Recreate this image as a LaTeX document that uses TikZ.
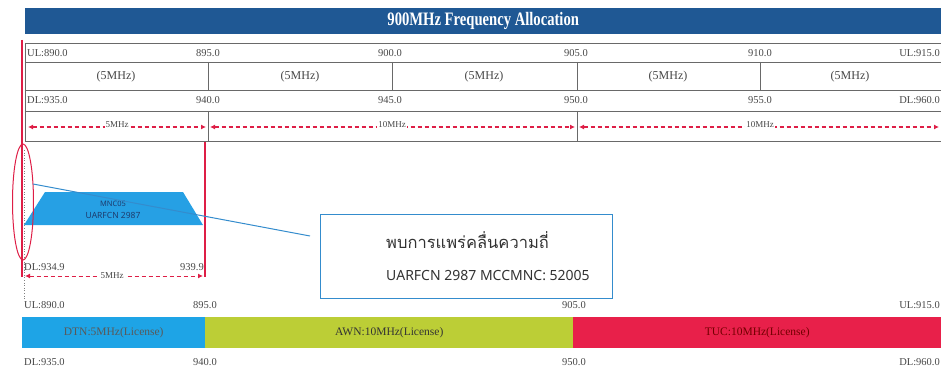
\documentclass[tikz,border=0pt]{standalone}
\usepackage{fontspec}
\usepackage{graphicx}
\setmainfont{Liberation Serif}
\newfontfamily\thaifont[Script=Thai]{Loma}
\newfontfamily\nsans{Noto Sans}
\usetikzlibrary{arrows.meta,shapes.geometric}
\definecolor{titlebg}{RGB}{31,88,148}
\definecolor{redline}{RGB}{222,30,70}
\definecolor{bandblue}{RGB}{30,164,230}
\definecolor{bandgreen}{RGB}{188,206,54}
\definecolor{bandred}{RGB}{232,32,74}
\definecolor{lbl}{RGB}{70,70,70}
\definecolor{boxblue}{RGB}{52,140,205}
\definecolor{trapblue}{RGB}{38,160,228}
\definecolor{trapText}{RGB}{30,60,110}
\definecolor{tline}{RGB}{105,105,105}
\begin{document}
\begin{tikzpicture}[x=1pt,y=-1pt,
  lab/.style={font=\fontsize{10.5}{11}\selectfont, text=lbl, inner sep=0pt},
  mhz/.style={font=\fontsize{12}{12}\selectfont, text=lbl, inner sep=0pt},
  tabline/.style={draw=tline, line width=0.9pt},
  redv/.style={draw=redline, line width=1.3pt},
  span/.style={draw=redline, line width=1.2pt, dash pattern=on 4pt off 3pt, {Latex[length=5pt,width=5pt]}-{Latex[length=5pt,width=5pt]}},
  spanlab/.style={fill=white, inner sep=1pt, font=\fontsize{9}{9}\selectfont, text=lbl},
  band/.style={anchor=north west, minimum height=31pt, inner sep=0pt, font=\fontsize{11.5}{12}\selectfont},
]
\useasboundingbox (0,0) rectangle (941,374);

% title bar
\node[fill=titlebg, anchor=north west, minimum width=916pt, minimum height=26pt, inner sep=0pt,
  text=white, font=\bfseries\fontsize{19}{19}\selectfont] (title) at (25,8)
  {\scalebox{0.77}[1]{900MHz Frequency Allocation}};

% table
\draw[tabline] (25,43) -- (941,43);
\draw[tabline] (25,62) -- (941,62);
\draw[tabline] (25,90) -- (941,90);
\draw[tabline] (25,111) -- (941,111);
\draw[tabline] (25,141) -- (941,141);
\draw[tabline] (25,43) -- (25,141);
\foreach \x in {208,392,577,760} \draw[tabline] (\x,62) -- (\x,90);
\foreach \x in {208,577} \draw[tabline] (\x,111) -- (\x,141);

\node[lab, anchor=west] (ul890) at (27,53) {UL:890.0};
\node[lab] (ul895) at (208,53) {895.0};
\node[lab] (ul900) at (390,53) {900.0};
\node[lab] (ul905) at (576,53) {905.0};
\node[lab] (ul910) at (760,53) {910.0};
\node[lab, anchor=east] (ul915) at (940,53) {UL:915.0};

\node[mhz] (m1) at (116,77) {(5MHz)};
\node[mhz] (m2) at (300,77) {(5MHz)};
\node[mhz] (m3) at (484,77) {(5MHz)};
\node[mhz] (m4) at (668,77) {(5MHz)};
\node[mhz] (m5) at (850,77) {(5MHz)};

\node[lab, anchor=west] (dl935) at (27,100) {DL:935.0};
\node[lab] (dl940) at (208,100) {940.0};
\node[lab] (dl945) at (390,100) {945.0};
\node[lab] (dl950) at (576,100) {950.0};
\node[lab] (dl955) at (760,100) {955.0};
\node[lab, anchor=east] (dl960) at (940,100) {DL:960.0};

\coordinate (a1) at (28,127);
\coordinate (a2) at (206,127);
\coordinate (a3) at (210,127);
\coordinate (a4) at (575,127);
\coordinate (a5) at (579,127);
\coordinate (a6) at (939,127);
\draw[span] (a1) -- (a2);
\draw[span] (a3) -- (a4);
\draw[span] (a5) -- (a6);
\node[spanlab] (s1) at (117,125) {5MHz};
\node[spanlab] (s2) at (392,125) {10MHz};
\node[spanlab] (s3) at (760,125) {10MHz};

% red guide lines
\coordinate (r1t) at (22,40);
\coordinate (r1b) at (22,277);
\coordinate (r2t) at (205,142);
\coordinate (r2b) at (205,277);
\draw[redv] (r1t) -- (r1b);
\draw[redv] (r2t) -- (r2b);
\coordinate (dt) at (24.5,150);
\coordinate (db) at (24.5,300);
\draw[gray, line width=0.6pt, dotted] (dt) -- (db);

% carrier trapezoid
\fill[trapblue] (24,225) -- (45,192) -- (183,192) -- (203,225) -- cycle;
\node[font=\nsans\fontsize{7.5}{8}\selectfont, text=trapText, inner sep=0pt] (mnc) at (113,204) {MNC05};
\node[font=\nsans\fontsize{8.5}{9}\selectfont, text=trapText, inner sep=0pt] (uarfcn) at (113,215) {UARFCN 2987};

% ellipse highlight
\node[draw=redline, ellipse, line width=1pt, minimum width=21pt, minimum height=116pt, inner sep=0pt] (ell) at (23,202) {};

% callout line and box
\coordinate (ls) at (33,184);
\coordinate (le) at (310,236);
\draw[boxblue, line width=1pt] (ls) -- (le);
\node[draw=boxblue, line width=1pt, anchor=north west, minimum width=292pt, minimum height=84pt, inner sep=0pt] (msg) at (320,214) {};
\node[anchor=base west, inner sep=0pt, font=\thaifont\fontsize{16.5}{17}\selectfont, text=black!80] (msgth) at (386,248) {พบการแพร่คลื่นความถี่};
\node[anchor=base west, inner sep=0pt, font=\nsans\fontsize{14}{14}\selectfont, text=black!80] (msgen) at (386,280) {UARFCN 2987 MCCMNC: 52005};

% lower span
\node[lab, anchor=west] (dl9349) at (24,267) {DL:934.9};
\node[lab, anchor=east] (dl9399) at (204,267) {939.9};
\coordinate (b1) at (25,276);
\coordinate (b2) at (203,276);
\draw[span, line width=1pt] (b1) -- (b2);
\node[spanlab] (s4) at (112,276) {5MHz};

% bottom band
\node[lab, anchor=west] (bul890) at (24,305) {UL:890.0};
\node[lab] (bul895) at (205,305) {895.0};
\node[lab] (bul905) at (574,305) {905.0};
\node[lab, anchor=east] (bul915) at (940,305) {UL:915.0};

\node[band, fill=bandblue, minimum width=183pt, text=black!65] (dtn) at (22,317) {DTN:5MHz(License)};
\node[band, fill=bandgreen, minimum width=368pt, text=black!80] (awn) at (205,317) {AWN:10MHz(License)};
\node[band, fill=bandred, minimum width=368pt, text=red!45!black] (tuc) at (573,317) {TUC:10MHz(License)};

\node[lab, anchor=west] (bdl935) at (24,362) {DL:935.0};
\node[lab] (bdl940) at (205,362) {940.0};
\node[lab] (bdl950) at (574,362) {950.0};
\node[lab, anchor=east] (bdl960) at (940,362) {DL:960.0};
\end{tikzpicture}
\end{document}
